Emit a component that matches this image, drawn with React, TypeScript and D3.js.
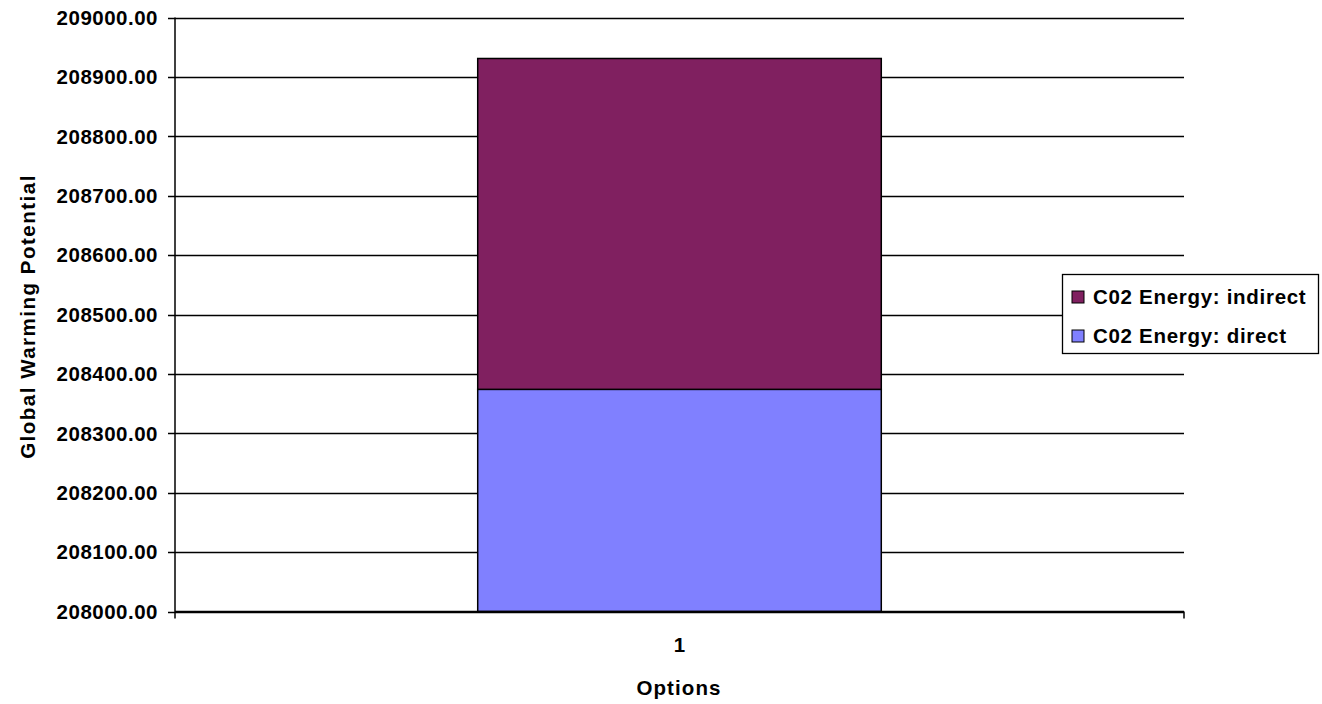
import React from "react";
import * as d3 from "d3";

const categories = ["1"];
const seriesNames = ["C02 Energy: direct", "C02 Energy: indirect"];
const directValues = [208374];
const indirectValues = [557];
const yTicks = [208000, 208100, 208200, 208300, 208400, 208500, 208600, 208700, 208800, 208900, 209000];
const colors = ["#8080FF", "#802060"];

const W = 1322;
const H = 704;
const left = 175;
const right = 1184;
const top = 17.5;
const bottom = 611.5;
const FONT = "'Liberation Sans', Arial, sans-serif";
const FS = 20.5;

export default function App() {
  const x = d3.scaleBand<string>().domain(categories).range([left, right]).padding(0.4286);
  const y = d3.scaleLinear().domain([208000, 209000]).range([bottom, top]);
  const yMin = y.domain()[0];
  const stackData = categories.map((c, i) => ({ cat: c, direct: directValues[i], indirect: indirectValues[i] }));
  const stack = d3.stack<any>().keys(["direct", "indirect"])(stackData);

  return (
    <svg
      width={W}
      height={H}
      style={{ position: "absolute", left: 0, top: 0, display: "block", background: "#fff" }}
      fontFamily={FONT}
    >
      {yTicks.map((t) => (
        <g key={t}>
          <line x1={left - 7} x2={right} y1={Math.round(y(t)) + 0.5} y2={Math.round(y(t)) + 0.5} stroke="#000" strokeWidth={1.3} />
          <text x={158} y={y(t)} dy="0.36em" textAnchor="end" fontSize={FS} fontWeight="bold" letterSpacing={0.5}>
            {t.toFixed(2)}
          </text>
        </g>
      ))}
      {stack.map((layer, si) =>
        layer.map((d, i) => {
          const v0 = Math.max(d[0], yMin);
          return (
            <rect
              key={si + "-" + i}
              x={x(categories[i])!}
              width={x.bandwidth()}
              y={y(d[1])}
              height={y(v0) - y(d[1])}
              fill={colors[si]}
              stroke="#000"
              strokeWidth={1.5}
            />
          );
        })
      )}
      <line x1={left} x2={left} y1={top} y2={bottom + 7} stroke="#000" strokeWidth={1.5} />
      <line x1={left} x2={right} y1={bottom} y2={bottom} stroke="#000" strokeWidth={1.5} />
      <line x1={right} x2={right} y1={bottom} y2={bottom + 7} stroke="#000" strokeWidth={1.5} />
      {categories.map((c) => (
        <text key={c} x={x(c)! + x.bandwidth() / 2} y={645} dy="0.36em" textAnchor="middle" fontSize={FS} fontWeight="bold">
          {c}
        </text>
      ))}
      <text x={679} y={688} dy="0.36em" textAnchor="middle" fontSize={FS} fontWeight="bold" letterSpacing={1.1}>
        Options
      </text>
      <text
        transform={`translate(28,${(173 + 460) / 2}) rotate(-90)`}
        dy="0.36em"
        textAnchor="middle"
        fontSize={FS}
        fontWeight="bold"
        letterSpacing={1.5}
      >
        Global Warming Potential
      </text>
      <g>
        <rect x={1062.5} y={274.5} width={256} height={79} fill="#fff" stroke="#000" strokeWidth={1.3} />
        {[1, 0].map((si, row) => (
          <g key={si}>
            <rect x={1072} y={291 + row * 39} width={12} height={12} fill={colors[si]} stroke="#000" strokeWidth={1} />
            <text x={1093} y={297 + row * 39} dy="0.36em" fontSize={FS} fontWeight="bold" letterSpacing={0.7}>
              {seriesNames[si]}
            </text>
          </g>
        ))}
      </g>
    </svg>
  );
}
